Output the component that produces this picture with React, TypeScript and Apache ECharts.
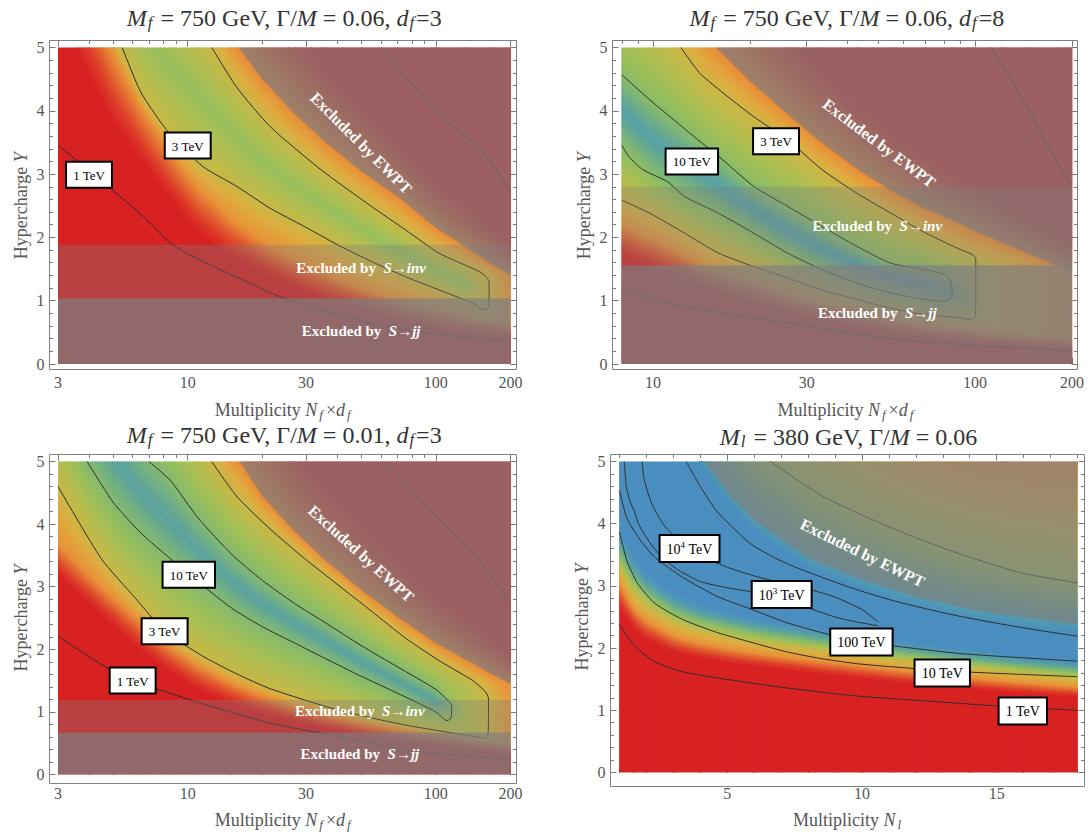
import React, { useEffect, useRef } from "react";
import * as echarts from "echarts";

type Pt = [number, number];

const SERIF = "'Liberation Serif', 'Times New Roman', 'DejaVu Serif', serif";
const FLOOR_Y = -3;
const CEIL_Y = 25;

// colour ramp of the cutoff scale: red = low, blue = high
const RAMP_T = [0, 0.1, 0.22, 0.3, 0.4, 0.47, 0.55, 0.62, 0.7, 0.8, 0.88, 1];
const RAMP_RGB = [
  [216, 34, 34], [220, 60, 38], [228, 110, 48], [232, 145, 55], [222, 172, 62], [200, 183, 68],
  [175, 190, 80], [150, 190, 92], [125, 182, 115], [95, 165, 150], [80, 155, 175], [74, 142, 192],
];

// grey veils over the excluded regions
const SHADE_RGB = "125,125,128";
const ALPHA_EWPT = 0.68;
const ALPHA_INV = 0.32;
const ALPHA_JJ = 0.78;

// ---------------- panel A : M_f = 750 GeV, Γ/M = 0.06, d_f = 3 ----------------
const A_NODES = [3, 4, 5, 6.5, 8.5, 11, 15, 20, 27, 36, 50, 70, 100, 130, 165, 200];
const A_RED = [5.6, 4.6, 3.85, 3.25, 2.65, 2.1, 1.7, 1.45, 1.22, 1.02, 0.85, 0.7, 0.58, 0.5, 0.45, 0.42];
const A_ORANGE = [7.0, 5.8, 4.9, 4.05, 3.35, 2.8, 2.3, 1.95, 1.68, 1.45, 1.22, 1.02, 0.86, 0.75, 0.68, 0.65];
const A_INNER = [7.5, 6.2, 5.25, 4.28, 3.63, 3.18, 2.85, 2.53, 2.26, 2.0, 1.68, 1.43, 1.19, 1.01, 0.86, 0.8];
const A_RIDGE = [8.0, 6.9, 6.1, 5.3, 4.7, 4.25, 3.68, 3.2, 2.82, 2.5, 2.15, 1.8, 1.48, 1.28, 1.1, 1.05];
const A_OUTER = [9.0, 8.0, 7.2, 6.5, 5.9, 5.3, 4.5, 3.9, 3.42, 3.01, 2.61, 2.21, 1.79, 1.57, 1.36, 1.3];
const A_EWPT = [12, 10.5, 9.5, 8.5, 7.4, 6.3, 5.15, 4.5, 3.95, 3.5, 3.05, 2.65, 2.15, 1.87, 1.6, 1.4];
const A_FAR = [16, 14, 12.5, 11, 9.8, 8.5, 7.0, 6.1, 5.35, 4.7, 4.1, 3.55, 2.9, 2.5, 2.2, 1.9];
const A_CAP = [1, 1, 1, 1, 1, 1, 1, 1, 1, 1, 1, 1, 1, 1, 0.45, 0.3];
const A_LEVELS = [0, 0, 0.3, 0.47, 0.62, 0.47, 0.28, 0, 0];
const A_SINV = [1.04, 1.885];
const A_SJJ = [0, 1.04];
const A_LINE_1 = [[3, 3.46], [4.34, 2.94], [6.5, 2.36], [8.7, 1.88], [11.5, 1.62], [16, 1.36], [24, 1.05], [40, 0.78], [75, 0.54], [120, 0.44], [200, 0.36]];
const A_LINE_3 = [[5.44, 5], [6.5, 4.28], [8.4, 3.65], [11.5, 3.12], [15.7, 2.81], [21.5, 2.46], [29.6, 2.17], [40.3, 1.88], [55, 1.62], [75.4, 1.38], [103, 1.17], [141, 0.96], [156, 0.86], [163, 0.88], [164, 1.0], [164, 1.3], [160, 1.37], [150, 1.46], [103, 1.75], [75.4, 2.12], [55, 2.49], [34.4, 3.07], [21.5, 3.75], [15.7, 4.38], [12.5, 5]];
const A_LINE_FAR = [[60.5, 5], [75, 4.55], [110, 3.83], [150, 3.42], [200, 2.74]];

// ---------------- panel B : M_f = 750 GeV, Γ/M = 0.06, d_f = 8 ----------------
const B_NODES = [8, 10, 12, 15, 20, 26, 33, 43, 55, 70, 85, 100, 120, 150, 180, 200];
const B_RED = [1.72, 1.52, 1.36, 1.18, 0.98, 0.82, 0.7, 0.58, 0.5, 0.42, 0.37, 0.33, 0.3, 0.27, 0.24, 0.22];
const B_ORANGE = [2.2, 1.98, 1.78, 1.52, 1.3, 1.12, 0.97, 0.83, 0.72, 0.63, 0.58, 0.54, 0.5, 0.46, 0.43, 0.41];
const B_INNER3 = [2.59, 2.36, 2.12, 1.83, 1.56, 1.36, 1.18, 1.02, 0.88, 0.78, 0.74, 0.7, 0.66, 0.62, 0.6, 0.58];
const B_INNER10 = [3.46, 2.98, 2.72, 2.45, 2.1, 1.76, 1.5, 1.28, 1.12, 1.02, 0.98, 0.9, 0.85, 0.8, 0.76, 0.74];
const B_RIDGE = [4.0, 3.55, 3.25, 2.92, 2.48, 2.12, 1.84, 1.57, 1.36, 1.26, 1.14, 1.05, 1.0, 0.95, 0.9, 0.88];
const B_OUTER10 = [4.57, 4.13, 3.8, 3.4, 2.86, 2.5, 2.18, 1.86, 1.59, 1.49, 1.3, 1.2, 1.15, 1.1, 1.05, 1.02];
const B_OUTER3 = [6.0, 5.5, 5.03, 4.45, 3.95, 3.55, 3.09, 2.7, 2.38, 2.07, 1.86, 1.72, 1.6, 1.45, 1.35, 1.3];
const B_EWPT = [7.0, 6.4, 5.8, 5.1, 4.47, 3.96, 3.52, 3.08, 2.74, 2.45, 2.27, 2.1, 1.93, 1.72, 1.55, 1.46];
const B_FAR = [9, 8.5, 7.8, 6.9, 6.0, 5.3, 4.7, 4.15, 3.7, 3.3, 3.05, 2.85, 2.6, 2.32, 2.1, 1.98];
const B_CAP = [1, 1, 1, 1, 1, 1, 1, 1, 1, 1, 0.8, 0.5, 0.42, 0.35, 0.3, 0.28];
const B_LEVELS = [0, 0, 0.3, 0.45, 0.66, 0.85, 0.66, 0.45, 0.28, 0, 0];
const B_SINV = [1.56, 2.8];
const B_SJJ = [0, 1.56];
const B_LINE_1 = [[8, 1.17], [12.5, 0.91], [23, 0.69], [40, 0.5], [55, 0.4], [100, 0.29], [200, 0.22]];
const B_LINE_3 = [[8, 2.59], [9.79, 2.38], [12.5, 2.07], [16, 1.75], [20.5, 1.54], [26.2, 1.36], [33.5, 1.17], [42.9, 1.02], [54.9, 0.88], [70.2, 0.78], [89.8, 0.73], [97, 0.7], [100, 0.74], [100.5, 1.0], [100.5, 1.66], [98, 1.73], [89.8, 1.81], [70.2, 2.07], [54.9, 2.38], [42.9, 2.7], [33.5, 3.07], [26.2, 3.54], [20.5, 3.91], [17, 4.23], [14, 4.59], [12.2, 5]];
const B_LINE_10 = [[8, 3.46], [8.4, 3.28], [9.3, 3.07], [11.1, 2.88], [12.5, 2.65], [16, 2.38], [20.5, 2.07], [26.2, 1.75], [33.5, 1.49], [42.9, 1.28], [54.9, 1.12], [70.2, 1.02], [80, 0.99], [84, 1.03], [85, 1.15], [84, 1.3], [81.2, 1.41], [70.2, 1.49], [54.9, 1.59], [42.9, 1.86], [33.5, 2.17], [26.2, 2.49], [20.5, 2.81], [16, 3.28], [13.8, 3.54], [11.9, 3.81], [9.79, 4.17], [8, 4.57]];
const B_LINE_FAR = [[112, 5], [140, 4.2], [170, 3.4], [200, 2.78]];

// ---------------- panel C : M_f = 750 GeV, Γ/M = 0.01, d_f = 3 ----------------
const C_NODES = [3, 4, 5, 6.5, 8.5, 11, 15, 20, 27, 36, 50, 70, 100, 130, 165, 200];
const C_RED = [3.2, 2.75, 2.4, 2.0, 1.65, 1.38, 1.15, 0.98, 0.85, 0.74, 0.63, 0.54, 0.46, 0.41, 0.37, 0.33];
const C_ORANGE = [3.7, 3.2, 2.85, 2.45, 2.05, 1.75, 1.47, 1.27, 1.1, 0.97, 0.84, 0.73, 0.64, 0.57, 0.52, 0.48];
const C_INNER3 = [4.6, 3.8, 3.22, 2.72, 2.2, 1.93, 1.65, 1.43, 1.24, 1.09, 0.94, 0.81, 0.7, 0.63, 0.58, 0.55];
const C_INNER10 = [6.0, 4.95, 4.35, 3.85, 3.45, 3.07, 2.66, 2.36, 2.1, 1.85, 1.57, 1.3, 1.0, 0.9, 0.85, 0.8];
const C_RIDGE = [6.7, 5.8, 5.1, 4.5, 4.05, 3.6, 3.1, 2.73, 2.42, 2.14, 1.8, 1.5, 1.18, 1.0, 0.95, 0.9];
const C_OUTER10 = [7.5, 6.6, 5.9, 5.2, 4.7, 4.1, 3.52, 3.1, 2.73, 2.42, 2.06, 1.72, 1.36, 1.1, 1.05, 1.0];
const C_OUTER3 = [9.0, 8.0, 7.3, 6.6, 5.95, 5.3, 4.55, 4.03, 3.58, 3.18, 2.72, 2.26, 1.85, 1.58, 1.3, 1.2];
const C_EWPT = [12, 10.5, 9.5, 8.3, 7.2, 6.2, 5.2, 4.45, 3.88, 3.42, 2.95, 2.52, 2.1, 1.85, 1.62, 1.45];
const C_FAR = [16, 14, 12.5, 11, 9.6, 8.3, 7.0, 6.0, 5.2, 4.6, 4.0, 3.4, 2.85, 2.5, 2.2, 1.95];
const C_CAP = [1, 1, 1, 1, 1, 1, 1, 1, 1, 1, 1, 1, 1, 0.55, 0.45, 0.3];
const C_LEVELS = [0, 0, 0.3, 0.47, 0.68, 0.83, 0.68, 0.47, 0.28, 0, 0];
const C_SINV = [0.67, 1.19];
const C_SJJ = [0, 0.67];
const C_LINE_1 = [[3, 2.21], [4.48, 1.76], [6, 1.5], [7.2, 1.39], [11.5, 1.13], [21.5, 0.82], [40.3, 0.61], [75.4, 0.39], [200, 0.24]];
const C_LINE_3 = [[3, 4.6], [4.48, 3.45], [6.14, 2.82], [8.07, 2.29], [11.5, 1.89], [15.7, 1.61], [21.5, 1.37], [40.3, 1.03], [75.4, 0.79], [141, 0.61], [156, 0.58], [162, 0.63], [163, 0.9], [163, 1.22], [158, 1.33], [152, 1.39], [141, 1.5], [103, 1.82], [75.4, 2.18], [55, 2.61], [40.3, 3.03], [29.6, 3.45], [21.5, 3.92], [15.7, 4.45], [12.5, 5]];
const C_LINE_10 = [[3.93, 5], [5, 4.35], [6.5, 3.85], [8.5, 3.45], [10.1, 3.2], [15, 2.66], [20, 2.36], [27, 2.1], [36, 1.85], [50, 1.57], [70, 1.3], [100, 1.0], [111, 0.86], [115, 0.9], [116, 1.1], [112, 1.18], [100, 1.36], [70, 1.72], [50, 2.06], [36, 2.42], [27, 2.73], [20, 3.1], [15, 3.52], [11, 4.1], [8.5, 4.7], [6.96, 5]];
const C_LINE_FAR = [[62.7, 5], [80, 4.55], [103, 4.08], [141, 3.55], [200, 2.74]];

// ---------------- panel D : M_l = 380 GeV, Γ/M = 0.06 ----------------
const D_NODES = [1, 1.5, 2, 3, 4, 5, 6, 8, 10, 12, 14, 16, 18];
const D_RED = [2.65, 2.35, 2.15, 1.95, 1.85, 1.78, 1.72, 1.62, 1.52, 1.43, 1.35, 1.28, 1.22];
const D_ORANGE = [3.05, 2.65, 2.45, 2.2, 2.08, 2.0, 1.93, 1.82, 1.72, 1.62, 1.53, 1.45, 1.38];
const D_YELLOW = [3.3, 2.9, 2.68, 2.42, 2.27, 2.18, 2.1, 1.99, 1.88, 1.78, 1.68, 1.6, 1.52];
const D_TEAL = [3.6, 3.2, 2.95, 2.66, 2.5, 2.4, 2.3, 2.17, 2.04, 1.93, 1.83, 1.74, 1.66];
const D_BLUE = [3.95, 3.5, 3.2, 2.88, 2.7, 2.58, 2.48, 2.34, 2.2, 2.08, 1.98, 1.88, 1.8];
const D_BLUE_END = [8.85, 8.35, 7.85, 6.35, 4.95, 4.35, 3.9, 3.3, 2.95, 2.67, 2.47, 2.34, 2.23];
const D_EWPT = [9, 8.5, 8, 6.5, 5.1, 4.5, 4.05, 3.45, 3.1, 2.82, 2.62, 2.49, 2.38];
const D_OLIVE = [10.5, 10, 9.5, 8, 6.6, 5.9, 5.3, 4.55, 4.05, 3.7, 3.4, 3.2, 3.05];
const D_BROWN = [13, 12.5, 12, 10.5, 9, 8.3, 7.6, 6.6, 5.9, 5.4, 5.1, 4.95, 4.85];
const D_CAP = [1, 1, 1, 1, 1, 1, 1, 1, 1, 1, 1, 1, 1];
const D_LEVELS = [0, 0, 0.3, 0.47, 0.75, 1, 1, 0.88, 0.6, 0.3, 0.2];
const D_LINE_1 = [[1, 2.38], [1.54, 2.04], [2.31, 1.78], [3.34, 1.62], [4.63, 1.52], [7.2, 1.36], [9.8, 1.23], [12.4, 1.15], [15, 1.07], [18, 1.0]];
const D_LINE_10 = [[1, 3.87], [1.28, 3.4], [1.67, 3.04], [2.31, 2.72], [3.34, 2.46], [4.63, 2.25], [5.92, 2.09], [7.2, 1.94], [8.5, 1.83], [9.8, 1.75], [11.1, 1.7], [13.7, 1.62], [18, 1.54]];
const D_LINE_100 = [[1, 4.53], [1.28, 4.08], [1.8, 3.72], [2.31, 3.46], [3.34, 3.14], [4.63, 2.83], [5.92, 2.62], [7.2, 2.41], [8.5, 2.25], [9.8, 2.12], [11.1, 2.04], [13.7, 1.91], [18, 1.79]];
const D_LINE_1E3 = [[1.18, 5], [1.25, 4.6], [1.4, 4.35], [1.55, 4.2], [1.7, 4.0], [1.9, 3.85], [2.2, 3.65], [2.6, 3.45], [3.2, 3.25], [4, 3.07], [5, 2.97], [6, 2.9], [7, 2.84], [8, 2.65], [9, 2.5], [9.8, 2.42], [10.6, 2.36]];
const D_LINE_1E4 = [[1.84, 5], [1.9, 4.75], [2.05, 4.5], [2.2, 4.32], [2.4, 4.15], [2.7, 3.95], [3.1, 3.78], [3.6, 3.6], [4.2, 3.45], [5, 3.3], [6, 3.16], [7, 3.05], [8, 2.95], [9, 2.82], [10, 2.62], [10.6, 2.42]];
const D_LINE_HI = [[3.47, 5], [4.0, 4.6], [4.63, 4.19], [5.92, 3.66], [7.2, 3.36], [8.5, 3.14], [9.8, 2.94], [11.1, 2.77], [12.4, 2.63], [13.65, 2.51], [15, 2.4], [16.5, 2.29], [18, 2.19]];
const D_LINE_FAR = [[6.6, 5], [8.5, 4.45], [11.1, 3.93], [13.65, 3.51], [16, 3.2], [18, 3.05]];

// tick values
const A_X_LABELS = [3, 10, 30, 100, 200];
const A_X_MINOR = [4, 5, 6, 7, 8, 9, 20, 40, 50, 60, 70, 80, 90];
const B_X_LABELS = [10, 30, 100, 200];
const B_X_MINOR = [8, 9, 20, 40, 50, 60, 70, 80, 90];
const D_X_LABELS = [5, 10, 15];
const D_X_MINOR = [1, 2, 3, 4, 6, 7, 8, 9, 11, 12, 13, 14, 16, 17, 18];

function rampColor(t: number): string {
  const x = Math.max(0, Math.min(1, t));
  let k = 0;
  while (k < RAMP_T.length - 2 && x > RAMP_T[k + 1]) k++;
  const f = (x - RAMP_T[k]) / (RAMP_T[k + 1] - RAMP_T[k]);
  const a = RAMP_RGB[k];
  const b = RAMP_RGB[k + 1];
  const c = a.map((v, i) => Math.round(v + (b[i] - v) * f));
  return `rgb(${c[0]},${c[1]},${c[2]})`;
}

// slices the colour field into thin quads between neighbouring level curves
function buildField(nodes: number[], curves: number[][], levels: number[], cap: number[]) {
  const items: number[][] = [];
  for (let k = 0; k < curves.length - 1; k++) {
    const lo = curves[k];
    const hi = curves[k + 1];
    const t0 = levels[k];
    const t1 = levels[k + 1];
    const steps = t0 === t1 ? 1 : 12;
    for (let i = 0; i < nodes.length - 1; i++) {
      for (let s = 0; s < steps; s++) {
        const a = s / steps;
        const b = (s + 1) / steps;
        const yl0 = lo[i] + (hi[i] - lo[i]) * a;
        const yl1 = lo[i] + (hi[i] - lo[i]) * b;
        const yr0 = lo[i + 1] + (hi[i + 1] - lo[i + 1]) * a;
        const yr1 = lo[i + 1] + (hi[i + 1] - lo[i + 1]) * b;
        if (Math.min(yl0, yr0) > 5.02 || Math.max(yl1, yr1) < -0.02) continue;
        const tm = t0 + ((t1 - t0) * (a + b)) / 2;
        items.push([nodes[i], nodes[i + 1], yl0, yl1, yr0, yr1, Math.min(tm, cap[i]), Math.min(tm, cap[i + 1])]);
      }
    }
  }
  return items;
}

function renderField(_params: any, api: any) {
  const xa = api.value(0);
  const xb = api.value(1);
  const p1 = api.coord([xa, api.value(2)]);
  const p2 = api.coord([xb, api.value(4)]);
  const p3 = api.coord([xb, api.value(5)]);
  const p4 = api.coord([xa, api.value(3)]);
  const cl = rampColor(api.value(6));
  const cr = rampColor(api.value(7));
  const paint: any =
    cl === cr
      ? cl
      : new echarts.graphic.LinearGradient(0, 0, 1, 0, [
          { offset: 0, color: cl },
          { offset: 1, color: cr },
        ]);
  return {
    type: "polygon",
    shape: { points: [p1, p2, p3, p4] },
    style: { fill: paint, stroke: paint, lineWidth: 0.8 },
  };
}

interface Veil { pts: Pt[]; alpha: number }
interface Box { text: string; at: Pt }
interface Note { text: string; at: Pt; rotate: number }
interface PanelSpec {
  grid: { left: number; top: number; width: number; height: number };
  frame: { l: number; t: number; r: number; b: number };
  xType: "log" | "value";
  xMin: number;
  xMax: number;
  xLabels: number[];
  xMinor: number[];
  xName: string;
  title: string;
  titleTop: number;
  field: number[][];
  veils: Veil[];
  lines: number[][][];
  boxes: Box[];
  boxSize: number;
  notes: Note[];
}

function ewptVeil(nodes: number[], edge: number[]): Veil {
  const pts: Pt[] = nodes.map((x, i) => [x, edge[i]] as Pt);
  pts.push([nodes[nodes.length - 1], CEIL_Y], [nodes[0], CEIL_Y]);
  return { pts, alpha: ALPHA_EWPT };
}

function bandVeil(xMin: number, xMax: number, range: number[], alpha: number): Veil {
  return {
    pts: [[xMin, range[0]], [xMax, range[0]], [xMax, range[1]], [xMin, range[1]]],
    alpha,
  };
}

function stack(nodes: number[], curves: number[][]) {
  return [nodes.map(() => FLOOR_Y), ...curves, nodes.map(() => CEIL_Y)];
}

const TITLE_A = "{i|M}{s|f} = 750 GeV, Γ/{i|M} = 0.06, {i|d}{s|f}=3";
const TITLE_B = "{i|M}{s|f} = 750 GeV, Γ/{i|M} = 0.06, {i|d}{s|f}=8";
const TITLE_C = "{i|M}{s|f} = 750 GeV, Γ/{i|M} = 0.01, {i|d}{s|f}=3";
const TITLE_D = "{i|M}{s|l} = 380 GeV, Γ/{i|M} = 0.06";
const NAME_NF = "Multiplicity {i|N}{s|f}×{i|d}{s|f}";
const NAME_NL = "Multiplicity {i|N}{s|l}";
const NAME_Y = "Hypercharge {i|Y}";
const NOTE_EWPT = "Excluded by EWPT";
const NOTE_INV = "Excluded by  {it|S→inv}";
const NOTE_JJ = "Excluded by  {it|S→jj}";

const PANELS: PanelSpec[] = [
  {
    grid: { left: 58, top: 47.5, width: 452.5, height: 316.5 },
    frame: { l: 49.5, t: 40.5, r: 516.5, b: 369.5 },
    xType: "log", xMin: 2.9999, xMax: 200.001,
    xLabels: A_X_LABELS, xMinor: A_X_MINOR, xName: NAME_NF,
    title: TITLE_A, titleTop: 5,
    field: buildField(A_NODES, stack(A_NODES, [A_RED, A_ORANGE, A_INNER, A_RIDGE, A_OUTER, A_EWPT, A_FAR]), A_LEVELS, A_CAP),
    veils: [ewptVeil(A_NODES, A_EWPT), bandVeil(3, 200, A_SINV, ALPHA_INV), bandVeil(3, 200, A_SJJ, ALPHA_JJ)],
    lines: [A_LINE_1, A_LINE_3, A_LINE_FAR],
    boxes: [{ text: "1 TeV", at: [4.0, 2.99] }, { text: "3 TeV", at: [10.0, 3.45] }],
    boxSize: 13,
    notes: [
      { text: NOTE_EWPT, at: [50, 3.49], rotate: -45 },
      { text: NOTE_INV, at: [50, 1.52], rotate: 0 },
      { text: NOTE_JJ, at: [50, 0.52], rotate: 0 },
    ],
  },
  {
    grid: { left: 621.8, top: 47.5, width: 450.2, height: 316.5 },
    frame: { l: 612.5, t: 40.5, r: 1077.5, b: 369.5 },
    xType: "log", xMin: 7.9999, xMax: 200.001,
    xLabels: B_X_LABELS, xMinor: B_X_MINOR, xName: NAME_NF,
    title: TITLE_B, titleTop: 5,
    field: buildField(B_NODES, stack(B_NODES, [B_RED, B_ORANGE, B_INNER3, B_INNER10, B_RIDGE, B_OUTER10, B_OUTER3, B_EWPT, B_FAR]), B_LEVELS, B_CAP),
    veils: [ewptVeil(B_NODES, B_EWPT), bandVeil(8, 200, B_SINV, ALPHA_INV), bandVeil(8, 200, B_SJJ, ALPHA_JJ)],
    lines: [B_LINE_1, B_LINE_3, B_LINE_10, B_LINE_FAR],
    boxes: [{ text: "10 TeV", at: [13.2, 3.2] }, { text: "3 TeV", at: [24.1, 3.52] }],
    boxSize: 13,
    notes: [
      { text: NOTE_EWPT, at: [50.4, 3.49], rotate: -37 },
      { text: NOTE_INV, at: [49.7, 2.18], rotate: 0 },
      { text: NOTE_JJ, at: [49.7, 0.81], rotate: 0 },
    ],
  },
  {
    grid: { left: 58, top: 461.5, width: 452.5, height: 316.5 },
    frame: { l: 49.5, t: 454.5, r: 516.5, b: 783.5 },
    xType: "log", xMin: 2.9999, xMax: 200.001,
    xLabels: A_X_LABELS, xMinor: A_X_MINOR, xName: NAME_NF,
    title: TITLE_C, titleTop: 422,
    field: buildField(C_NODES, stack(C_NODES, [C_RED, C_ORANGE, C_INNER3, C_INNER10, C_RIDGE, C_OUTER10, C_OUTER3, C_EWPT, C_FAR]), C_LEVELS, C_CAP),
    veils: [ewptVeil(C_NODES, C_EWPT), bandVeil(3, 200, C_SINV, ALPHA_INV), bandVeil(3, 200, C_SJJ, ALPHA_JJ)],
    lines: [C_LINE_1, C_LINE_3, C_LINE_10, C_LINE_FAR],
    boxes: [{ text: "10 TeV", at: [10.1, 3.19] }, { text: "3 TeV", at: [8.07, 2.29] }, { text: "1 TeV", at: [6.0, 1.5] }],
    boxSize: 13,
    notes: [
      { text: NOTE_EWPT, at: [50, 3.53], rotate: -42 },
      { text: NOTE_INV, at: [49.4, 1.01], rotate: 0 },
      { text: NOTE_JJ, at: [49.4, 0.32], rotate: 0 },
    ],
  },
  {
    grid: { left: 619.5, top: 461.5, width: 458, height: 317.5 },
    frame: { l: 610.5, t: 454.5, r: 1084.5, b: 786.5 },
    xType: "value", xMin: 1, xMax: 18,
    xLabels: D_X_LABELS, xMinor: D_X_MINOR, xName: NAME_NL,
    title: TITLE_D, titleTop: 424,
    field: buildField(D_NODES, stack(D_NODES, [D_RED, D_ORANGE, D_YELLOW, D_TEAL, D_BLUE, D_BLUE_END, D_EWPT, D_OLIVE, D_BROWN]), D_LEVELS, D_CAP),
    veils: [ewptVeil(D_NODES, D_EWPT)],
    lines: [D_LINE_1, D_LINE_10, D_LINE_100, D_LINE_1E3, D_LINE_1E4, D_LINE_HI, D_LINE_FAR],
    boxes: [
      { text: "10{sup|4} TeV", at: [3.6, 3.6] },
      { text: "10{sup|3} TeV", at: [7.02, 2.86] },
      { text: "100 TeV", at: [9.98, 2.1] },
      { text: "10 TeV", at: [12.98, 1.6] },
      { text: "1 TeV", at: [15.97, 0.99] },
    ],
    boxSize: 14,
    notes: [{ text: NOTE_EWPT, at: [10.02, 3.53], rotate: -26 }],
  },
];

const TICK_COLOR = "#7a7a7a";
const LABEL_COLOR = "#555";
const TITLE_COLOR = "#333";

const nameRich = {
  i: { fontFamily: SERIF, fontSize: 18, fontStyle: "italic", fontWeight: "normal", color: LABEL_COLOR, lineHeight: 22 },
  s: { fontFamily: SERIF, fontSize: 13, fontStyle: "italic", fontWeight: "normal", color: LABEL_COLOR, lineHeight: 13, verticalAlign: "bottom", padding: [0, 3, 0, 2] },
};
const nameStyle = { fontFamily: SERIF, fontSize: 18, fontWeight: "normal", color: LABEL_COLOR, lineHeight: 22, rich: nameRich };

function buildOption() {
  const grid: any[] = [];
  const xAxis: any[] = [];
  const yAxis: any[] = [];
  const series: any[] = [];
  const graphic: any[] = [];

  PANELS.forEach((p, gi) => {
    grid.push({ ...p.grid, containLabel: false });
    const offB = p.frame.b - (p.grid.top + p.grid.height);
    const offT = p.grid.top - p.frame.t;
    const offL = p.grid.left - p.frame.l;
    const offR = p.frame.r - (p.grid.left + p.grid.width);
    const base: any = {
      gridIndex: gi,
      type: p.xType,
      min: p.xMin,
      max: p.xMax,
      splitLine: { show: false },
      axisLine: { show: false },
    };
    if (p.xType === "log") base.logBase = 10;
    const major = { show: true, inside: true, length: 6, lineStyle: { color: TICK_COLOR }, customValues: p.xLabels };
    const minor = { show: true, inside: true, length: 3.5, lineStyle: { color: TICK_COLOR }, customValues: p.xMinor };
    xAxis.push({
      ...base,
      position: "bottom",
      offset: offB,
      axisTick: major,
      axisLabel: {
        show: true,
        customValues: p.xLabels,
        formatter: (v: number) => String(Math.round(v)),
        color: LABEL_COLOR,
        fontFamily: SERIF,
        fontSize: 16,
        margin: 5,
      },
      name: p.xName,
      nameLocation: "middle",
      nameGap: 29,
      nameTextStyle: nameStyle,
    });
    xAxis.push({ ...base, position: "bottom", offset: offB, axisTick: minor, axisLabel: { show: false } });
    xAxis.push({ ...base, position: "top", offset: offT, axisTick: major, axisLabel: { show: false } });
    xAxis.push({ ...base, position: "top", offset: offT, axisTick: minor, axisLabel: { show: false } });

    const ybase: any = {
      gridIndex: gi,
      type: "value",
      min: 0,
      max: 5,
      interval: 1,
      splitLine: { show: false },
      axisLine: { show: false },
      axisTick: { show: true, inside: true, length: 6, lineStyle: { color: TICK_COLOR } },
      minorTick: { show: true, splitNumber: 5, length: 3.5, lineStyle: { color: TICK_COLOR } },
    };
    yAxis.push({
      ...ybase,
      position: "left",
      offset: offL,
      axisLabel: { color: LABEL_COLOR, fontFamily: SERIF, fontSize: 16, margin: 5 },
      name: NAME_Y,
      nameLocation: "middle",
      nameGap: 18,
      nameTextStyle: nameStyle,
    });
    yAxis.push({ ...ybase, position: "right", offset: offR, axisLabel: { show: false } });

    const xi = gi * 4;
    const yi = gi * 2;

    series.push({
      type: "custom",
      xAxisIndex: xi,
      yAxisIndex: yi,
      renderItem: renderField,
      data: p.field,
      encode: { x: [0, 1], y: [2, 3] },
      clip: true,
      silent: true,
      progressive: 0,
      z: 1,
    });

    p.lines.forEach((ln) => {
      series.push({
        type: "line",
        xAxisIndex: xi,
        yAxisIndex: yi,
        data: ln,
        showSymbol: false,
        symbol: "none",
        smooth: 0.2,
        lineStyle: { color: "#2e2e2e", width: 1 },
        silent: true,
        clip: true,
        z: 2,
      });
    });

    const veils = p.veils;
    series.push({
      type: "custom",
      xAxisIndex: xi,
      yAxisIndex: yi,
      data: veils.map((_v, k) => [p.xMax, 1, k]),
      renderItem: (_params: any, api: any) => {
        const v = veils[api.value(2)];
        return {
          type: "polygon",
          shape: { points: v.pts.map((q) => api.coord(q)) },
          style: { fill: `rgba(${SHADE_RGB},${v.alpha})` },
        };
      },
      clip: true,
      silent: true,
      z: 3,
    });

    const labelItems: any[] = [];
    p.boxes.forEach((b) => {
      labelItems.push({
        value: b.at,
        label: {
          show: true,
          position: "inside",
          formatter: b.text,
          fontFamily: SERIF,
          fontSize: p.boxSize,
          lineHeight: p.boxSize + 4,
          color: "#000",
          opacity: 1,
          backgroundColor: "#fff",
          borderColor: "#000",
          borderWidth: 2,
          padding: [4, 6, 3, 6],
          rich: {
            sup: { fontFamily: SERIF, fontSize: Math.round(p.boxSize * 0.65), lineHeight: 9, verticalAlign: "top", color: "#000" },
          },
        },
      });
    });
    p.notes.forEach((n) => {
      const size = n.text === NOTE_EWPT ? 16 : 15;
      labelItems.push({
        value: n.at,
        label: {
          show: true,
          position: "inside",
          formatter: n.text,
          rotate: n.rotate,
          fontFamily: SERIF,
          fontWeight: "bold",
          fontSize: size,
          color: "#fff",
          opacity: 1,
          rich: { it: { fontFamily: SERIF, fontWeight: "bold", fontStyle: "italic", fontSize: size, color: "#fff" } },
        },
      });
    });
    series.push({
      type: "scatter",
      xAxisIndex: xi,
      yAxisIndex: yi,
      symbol: "circle",
      symbolSize: 1,
      itemStyle: { color: "rgba(0,0,0,0)", opacity: 1 },
      data: labelItems,
      silent: true,
      z: 5,
    });

    // panel heading
    graphic.push({
      type: "text",
      silent: true,
      x: p.grid.left + p.grid.width / 2,
      y: p.titleTop,
      style: {
        text: p.title,
        fontFamily: SERIF,
        fontSize: 24,
        fontWeight: "normal",
        fill: TITLE_COLOR,
        align: "center",
        verticalAlign: "top",
        lineHeight: 26,
        rich: {
          i: { fontFamily: SERIF, fontSize: 24, fontStyle: "italic", fontWeight: "normal", fill: TITLE_COLOR, lineHeight: 26 },
          s: { fontFamily: SERIF, fontSize: 17, fontStyle: "italic", fontWeight: "normal", fill: TITLE_COLOR, lineHeight: 14, verticalAlign: "bottom", padding: [0, 2, 0, 1] },
        },
      },
    });

    graphic.push({
      type: "rect",
      silent: true,
      shape: { x: p.frame.l, y: p.frame.t, width: p.frame.r - p.frame.l, height: p.frame.b - p.frame.t },
      style: { fill: "none", stroke: "#808080", lineWidth: 1 },
    });
  });

  return { animation: false, backgroundColor: "#fff", grid, xAxis, yAxis, series, graphic };
}

export default function App() {
  const ref = useRef<HTMLDivElement>(null);
  useEffect(() => {
    if (!ref.current) return;
    const chart = echarts.init(ref.current, undefined, { renderer: "svg" });
    chart.setOption(buildOption() as any);
    return () => chart.dispose();
  }, []);
  return (
    <div
      ref={ref}
      style={{ position: "fixed", left: 0, top: 0, width: 1088, height: 832, background: "#fff" }}
    />
  );
}
